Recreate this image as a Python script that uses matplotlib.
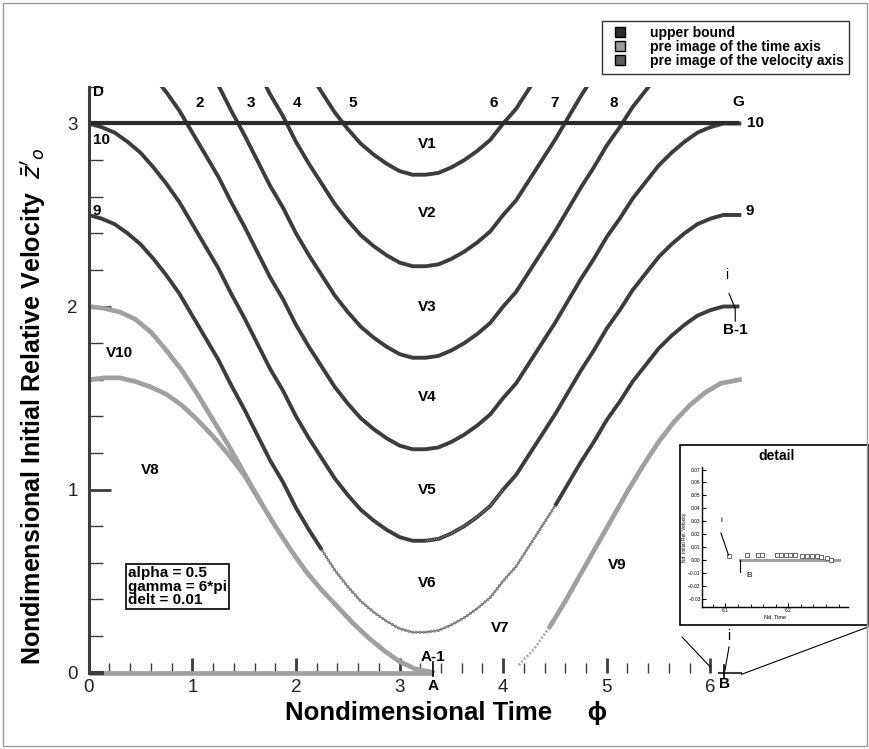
import matplotlib
matplotlib.use("Agg")
import matplotlib.pyplot as plt
import numpy as np
from matplotlib.lines import Line2D
from matplotlib.patches import ConnectionPatch, Rectangle
from matplotlib.ticker import FixedLocator, MultipleLocator

plt.rcParams["font.family"] = ["Liberation Sans Narrow", "Liberation Sans", "DejaVu Sans"]

# trajectory of the relative velocity over one forcing period
phi = [0.0, 0.125, 0.25, 0.375, 0.5, 0.625, 0.75, 0.875, 1.0, 1.125, 1.25,
       1.375, 1.5, 1.625, 1.75, 1.875, 2.0, 2.125, 2.25, 2.375, 2.5, 2.625,
       2.75, 2.875, 3.0, 3.125, 3.25, 3.375, 3.5, 3.625, 3.75, 3.875, 4.0,
       4.125, 4.25, 4.375, 4.5, 4.625, 4.75, 4.875, 5.0, 5.125, 5.25, 5.375,
       5.5, 5.625, 5.75, 5.875, 6.0, 6.125, 6.28]
profile = [0.0, -0.02, -0.05, -0.10, -0.16, -0.24, -0.33, -0.43, -0.55, -0.67,
           -0.79, -0.93, -1.06, -1.20, -1.34, -1.46, -1.60, -1.72, -1.83, -1.94,
           -2.03, -2.11, -2.17, -2.22, -2.26, -2.28, -2.28, -2.27, -2.24, -2.20,
           -2.15, -2.09, -2.00, -1.92, -1.81, -1.70, -1.59, -1.47, -1.35, -1.24,
           -1.12, -1.02, -0.91, -0.82, -0.73, -0.66, -0.60, -0.55, -0.52, -0.50,
           -0.50]
start_velocity = [5.0, 4.5, 4.0, 3.5, 3.0, 2.5]

upper_bound = 3.0
phi_end = 6.28
point_a = 3.32
point_b = 6.13

# pre images of the time axis
gray_upper_phi = [0.0, 0.15, 0.3, 0.45, 0.6, 0.75, 0.9, 1.05, 1.2, 1.35, 1.5,
                  1.65, 1.8, 1.95, 2.1, 2.25, 2.4, 2.55, 2.7, 2.85, 3.0, 3.15,
                  3.32]
gray_upper_vel = [2.00, 1.99, 1.97, 1.93, 1.86, 1.76, 1.65, 1.52, 1.38, 1.24,
                  1.09, 0.94, 0.80, 0.67, 0.55, 0.45, 0.36, 0.27, 0.19, 0.12,
                  0.06, 0.02, 0.0]
gray_lower_phi = [0.0, 0.15, 0.3, 0.45, 0.6, 0.75, 0.9, 1.05, 1.2, 1.35, 1.5,
                  1.65]
gray_lower_vel = [1.60, 1.61, 1.61, 1.59, 1.56, 1.52, 1.46, 1.38, 1.29, 1.19,
                  1.08, 0.94]
gray_right_phi = [4.15, 4.3, 4.45, 4.6, 4.75, 4.9, 5.05, 5.2, 5.35, 5.5, 5.65,
                  5.8, 5.95, 6.1, 6.28]
gray_right_vel = [0.04, 0.13, 0.25, 0.39, 0.54, 0.69, 0.84, 0.99, 1.13, 1.26,
                  1.37, 1.46, 1.53, 1.58, 1.60]

# close-up near point B
detail_phi = [6.106, 6.134, 6.152, 6.158, 6.182, 6.188, 6.196, 6.203, 6.211,
              6.221, 6.229, 6.237, 6.245, 6.252, 6.261, 6.268]
detail_vel = [0.0031, 0.0039, 0.0039, 0.0039, 0.0039, 0.0039, 0.0039, 0.0039,
              0.0039, 0.0034, 0.0034, 0.0031, 0.0031, 0.0026, 0.0018, 0.0005]

dark = "#3c3c3c"
line_dark = "#2b2b2b"
gray = "#a0a0a0"
mid = "#5a5a5a"

fig = plt.figure(figsize=(8.7, 7.49), dpi=100)
ax = fig.add_axes([0.102, 0.1021, 0.7562, 0.7819])
ax.patch.set_visible(False)
ax.set_xlim(0, 6.35)
ax.set_ylim(0, 3.2)

phi_arr = np.array(phi)
prof_arr = np.array(profile)
for c in start_velocity:
    vel = c + prof_arr
    if c == 2.5:
        left = phi_arr <= 2.25
        right = phi_arr >= 4.5
        mid_part = (phi_arr >= 2.25) & (phi_arr <= 4.5)
        ax.plot(phi_arr[left], vel[left], color=dark, lw=2.8, solid_capstyle="butt")
        ax.plot(phi_arr[right], vel[right], color=dark, lw=2.8, solid_capstyle="butt")
        ax.plot(phi_arr[mid_part], vel[mid_part], color=mid, lw=1.0)
        ax.plot(phi_arr[mid_part], vel[mid_part], color="#8c8c8c", lw=2.2,
                ls=(0, (0.7, 0.5)))
    else:
        ax.plot(phi_arr, vel, color=dark, lw=2.8)
        if c == 3.0:
            seg = (phi_arr >= 3.25) & (phi_arr <= 4.0)
            ax.plot(phi_arr[seg], vel[seg], color="#9a9a9a", lw=0.8,
                    ls=(0, (0.8, 0.8)))

ax.plot([0, phi_end], [upper_bound, upper_bound], color=line_dark, lw=3.0,
        clip_on=False, solid_capstyle="butt")

ax.plot(gray_upper_phi, gray_upper_vel, color=gray, lw=3.4)
ax.plot(gray_lower_phi, gray_lower_vel, color=gray, lw=3.4)
ax.plot(gray_right_phi[2:], gray_right_vel[2:], color=gray, lw=3.4)
ax.plot(gray_right_phi[:3], gray_right_vel[:3], color="#b0b0b0", lw=2.0,
        ls=(0, (0.8, 0.6)))
ax.plot([0, point_a], [0, 0], color=gray, lw=3.4, clip_on=False,
        solid_capstyle="butt")
ax.plot([0, 0.15], [0, 0], color=dark, lw=3.0, clip_on=False,
        solid_capstyle="butt")
ax.plot([point_b - 0.05, point_b + 0.17], [0, 0], color=dark, lw=1.5,
        clip_on=False)
ax.plot([point_a, point_a], [-0.02, 0.06], color="black", lw=1.2, clip_on=False)
ax.plot([point_b, point_b], [-0.03, 0.04], color="black", lw=1.2, clip_on=False)

# spines and ticks
for side in ["top", "right", "bottom"]:
    ax.spines[side].set_visible(False)
ax.spines["left"].set_linewidth(2.2)
ax.spines["left"].set_color(dark)
ax.xaxis.set_major_locator(FixedLocator([0, 1, 2, 3, 4, 5, 6]))
ax.xaxis.set_minor_locator(FixedLocator(np.arange(0.2, 6.01, 0.2)))
ax.yaxis.set_major_locator(FixedLocator([0, 1, 2, 3]))
ax.yaxis.set_minor_locator(FixedLocator(np.arange(0.2, 3.21, 0.2)))
ax.tick_params(axis="x", which="major", direction="in", length=11, width=2,
               color=dark, labelsize=13.5, pad=5)
ax.tick_params(axis="x", which="minor", direction="in", length=7, width=1,
               color=dark)
ax.tick_params(axis="y", which="major", direction="in", length=16, width=2,
               color=dark, labelsize=13.5, pad=8)
ax.tick_params(axis="y", which="minor", direction="in", length=10, width=1,
               color=dark)
for lab in ax.get_xticklabels() + ax.get_yticklabels():
    lab.set_color("#222222")

ax.set_xlabel("Nondimensional Time     ϕ", fontsize=18.5, fontweight="bold")
ax.xaxis.set_label_coords(0.543, -0.048)
ax.set_ylabel("Nondimensional Initial Relative Velocity  $\\bar{z}'_o$",
              fontsize=18, fontweight="bold")
ax.yaxis.set_label_coords(-0.062, 0.455)

# labels on the curves
bold = dict(fontsize=11, fontweight="bold", family=["Liberation Sans", "DejaVu Sans"],
            ha="center", va="center")
for txt, x in zip(["2", "3", "4", "5", "6", "7", "8"],
                  [1.075, 1.568, 2.01, 2.55, 3.91, 4.50, 5.07]):
    ax.text(x, 3.11, txt, **bold)
ax.text(0.09, 3.17, "D", **bold)
ax.text(6.27, 3.12, "G", **bold, clip_on=False)
ax.text(0.12, 2.91, "10", **bold)
ax.text(6.44, 3.0, "10", **bold, clip_on=False)
ax.text(0.08, 2.52, "9", **bold)
ax.text(6.38, 2.52, "9", **bold, clip_on=False)
for i, y in enumerate([2.89, 2.51, 2.0, 1.508, 1.0, 0.49]):
    ax.text(3.266, y, f"V{i + 1}", **bold)
ax.text(3.97, 0.243, "V7", **bold)
ax.text(0.59, 1.106, "V8", **bold)
ax.text(5.10, 0.587, "V9", **bold)
ax.text(0.30, 1.746, "V10", **bold)
ax.text(point_a, 0.085, "A-1", **bold)
ax.text(point_a, -0.075, "A", **bold, clip_on=False)
ax.text(6.24, 1.87, "B-1", **bold, clip_on=False)
ax.text(point_b + 0.01, -0.065, "B", **bold, clip_on=False)

thin = dict(fontsize=10, ha="center", va="center")
ax.text(6.16, 2.17, "i", **thin)
ax.plot([6.18, 6.24, 6.24], [2.07, 1.99, 1.92], color="black", lw=0.8,
        clip_on=False)
ax.text(6.18, 0.2, "i", **thin, clip_on=False)
ax.plot([6.18, point_b + 0.01], [0.14, 0.01], color="black", lw=0.8,
        clip_on=False)

ax.text(0.38, 0.47, "alpha = 0.5\ngamma = 6*pi\ndelt = 0.01", fontsize=11,
        fontweight="bold", va="center", ha="left", linespacing=0.95,
        bbox=dict(boxstyle="square,pad=0.15", fc="white", ec="black", lw=1.2))

# legend
handles = [
    Line2D([], [], ls="none", marker="s", ms=7, mfc="#2e2e2e", mec="black"),
    Line2D([], [], ls="none", marker="s", ms=7, mfc="#9a9a9a", mec="black"),
    Line2D([], [], ls="none", marker="s", ms=7, mfc="#5c5c5c", mec="black"),
]
leg = fig.legend(handles, ["upper bound", "pre image of the time axis",
                           "pre image of the velocity axis"],
                 loc="upper right", bbox_to_anchor=(849 / 870, 1 - 20.7 / 749),
                 borderaxespad=0, frameon=True, fancybox=False, borderpad=0.4,
                 labelspacing=0.0, handletextpad=1.2, handlelength=1.8,
                 prop=dict(family="Liberation Sans", weight="bold", size=10))
leg.get_frame().set_edgecolor("black")
leg.get_frame().set_linewidth(1.0)

# detail inset
box = Rectangle((680 / 870, 1 - 625 / 749), 188 / 870, 180 / 749,
                transform=fig.transFigure, fc="white", ec="black", lw=1.2,
                zorder=1)
fig.add_artist(box)
fig.text(777 / 870, 1 - 456 / 749, "detail", fontsize=10, fontweight="bold",
         family=["Liberation Sans", "DejaVu Sans"], ha="center", va="center",
         zorder=3)
ins = fig.add_axes([0.807, 0.1896, 0.1678, 0.187], zorder=2)
ins.patch.set_visible(False)
ins.set_xlim(6.063, 6.295)
ins.set_ylim(-0.036, 0.072)
for side in ["top", "right"]:
    ins.spines[side].set_visible(False)
ins.spines["left"].set_linewidth(1.0)
ins.spines["bottom"].set_linewidth(1.0)
ins.plot([point_b - 0.006, phi_end], [0, 0], color=gray, lw=2.2)
ins.plot(detail_phi, detail_vel, ls="none", marker="s", ms=3, mfc="white",
         mec="#666666", mew=0.7)
ins.plot([point_b - 0.006, point_b - 0.006], [0, -0.009], color="black", lw=0.8)
ins.text(point_b + 0.008, -0.012, "B", fontsize=6, ha="center", va="center")
ins.text(6.093, 0.031, "i", fontsize=6, ha="center", va="center")
ins.plot([6.093, 6.105], [0.021, 0.004], color="black", lw=0.8)
ins.xaxis.set_major_locator(FixedLocator([6.1, 6.2]))
ins.xaxis.set_minor_locator(MultipleLocator(0.02))
ins.yaxis.set_major_locator(MultipleLocator(0.01))
ins.tick_params(which="major", direction="in", length=3, width=0.8,
                labelsize=3.5, pad=1)
ins.tick_params(which="minor", direction="in", length=2, width=0.6)
ins.set_xlabel("Nd. Time", fontsize=4, labelpad=1)
ins.set_ylabel("Nd. Initial Rel. Velocity", fontsize=3.5, labelpad=1)

for xy_data, xy_fig in [((6.0, 0.03), (682 / 870, 1 - 637 / 749)),
                        ((point_b + 0.17, -0.01), (868 / 870, 1 - 627 / 749))]:
    con = ConnectionPatch(xyA=xy_data, coordsA=ax.transData, xyB=xy_fig,
                          coordsB=fig.transFigure, color="black", lw=0.8)
    fig.add_artist(con)

fig.add_artist(Rectangle((0.004, 0.004), 0.992, 0.992, transform=fig.transFigure,
                         fill=False, ec="#9a9a9a", lw=1.0))

fig.savefig("out.png", dpi=100)
